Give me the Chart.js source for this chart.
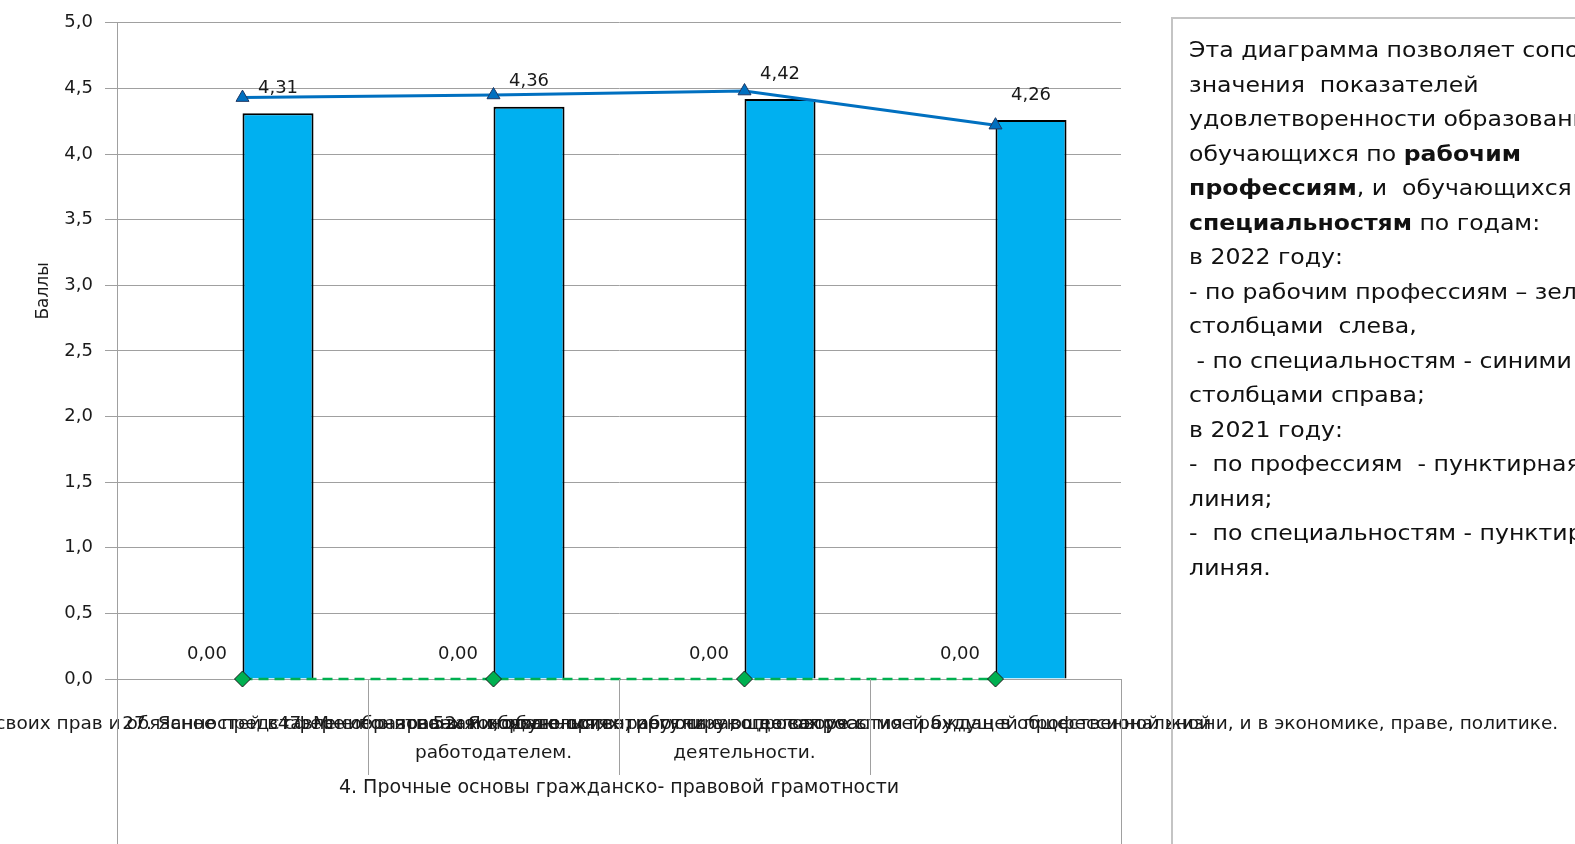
<!DOCTYPE html>
<html lang="ru">
<head>
<meta charset="utf-8">
<title>Удовлетворенность обучающихся</title>
<script src="https://cdn.jsdelivr.net/npm/chart.js@4.4.1/dist/chart.umd.min.js"></script>
<style>
  html, body { margin: 0; padding: 0; background: #fff; overflow: hidden; }
  #wrap { position: relative; width: 1575px; height: 844px; overflow: hidden; }
  #note {
    position: absolute; left: 1171px; top: 17px; width: 700px; height: 900px;
    border: 2px solid #c4c4c4; box-sizing: border-box;
    pointer-events: none;
  }
  #note .txt {
    padding: 14px 0 0 14px;
    font-family: "DejaVu Sans", sans-serif; font-size: 20.5px; line-height: 34.5px;
    color: #111; white-space: nowrap;
    transform: scaleX(1.15); transform-origin: 0 0;
  }
</style>
</head>
<body>
<div id="wrap">
  <canvas id="chart" width="1575" height="844"></canvas>
  <div id="note"><div class="txt">
    Эта диаграмма позволяет сопоставить<br>
    значения&nbsp; показателей<br>
    удовлетворенности образованием<br>
    обучающихся по <b>рабочим</b><br>
    <b>профессиям</b>, и&nbsp; обучающихся по<br>
    <b>специальностям</b> по годам:<br>
    в 2022 году:<br>
    - по рабочим профессиям – зелеными<br>
    столбцами&nbsp; слева,<br>
    &nbsp;- по специальностям - синими<br>
    столбцами справа;<br>
    в 2021 году:<br>
    -&nbsp; по профессиям&nbsp; - пунктирная<br>
    линия;<br>
    -&nbsp; по специальностям - пунктирная<br>
    линяя.
  </div></div>
</div>
<script>
// категории (вопросы анкеты), подписи частично перекрываются, как в оригинале
const categories = [
  ['16. Знание своих прав и обязанностей в сфере образования и, обучения,'],
  ['27. Ясное представление о правах и обязанностях работника, о договоре с', 'работодателем.'],
  ['47. Мне понятно законодательство, регулирующее вопросы моей будущей профессиональной', 'деятельности.'],
  ['52. Я хорошо ориентируюсь в вопросах участия граждан в общественной жизни, и в экономике, праве, политике.']
];
const groupLabel = '4. Прочные основы гражданско- правовой грамотности';

// 2022: столбцы
const prof2022 = [0, 0, 0, 0];
const spec2022 = [4.31, 4.36, 4.42, 4.26];
// 2021: линии
const prof2021 = [0, 0, 0, 0];
const spec2021 = [4.43, 4.45, 4.48, 4.22];

const yMin = 0, yMax = 5, yStep = 0.5;

const txtColor = '#1a1a1a';
const fontFamily = '"DejaVu Sans", sans-serif';
const fmt = (v, d) => v.toFixed(d).replace('.', ',');

Chart.defaults.font.family = fontFamily;
Chart.defaults.color = txtColor;

// подписи значений, разделители подписей оси X и заголовок оси Y
const extras = {
  id: 'extras',
  afterDatasetsDraw(chart) {
    const ctx = chart.ctx;
    ctx.save();
    ctx.font = '18px ' + fontFamily;
    ctx.fillStyle = txtColor;
    ctx.textAlign = 'center';
    ctx.textBaseline = 'middle';
    [0, 1].forEach(di => {
      const meta = chart.getDatasetMeta(di);
      meta.data.forEach((bar, i) => {
        const v = chart.data.datasets[di].data[i];
        ctx.fillText(fmt(v, 2), bar.x, bar.y - 25);
      });
    });
    ctx.restore();
  },
  afterDraw(chart) {
    const ctx = chart.ctx;
    const xs = chart.scales.x;
    const area = chart.chartArea;
    const step = xs.getPixelForValue(1) - xs.getPixelForValue(0);
    ctx.save();
    ctx.strokeStyle = '#a0a0a0';
    ctx.lineWidth = 1;
    for (let i = 0; i <= categories.length; i++) {
      const x = Math.round(xs.getPixelForValue(0) - step / 2 + i * step) + 0.5;
      const outer = i === 0 || i === categories.length;
      ctx.beginPath();
      ctx.moveTo(x, area.bottom);
      ctx.lineTo(x, outer ? chart.height : area.bottom + 96);
      ctx.stroke();
    }
    ctx.fillStyle = txtColor;
    ctx.font = '19px ' + fontFamily;
    ctx.textAlign = 'center';
    ctx.textBaseline = 'middle';
    ctx.fillText(groupLabel, (area.left + area.right) / 2, 788);

    ctx.translate(44, 291);
    ctx.rotate(-Math.PI / 2);
    ctx.font = '17px ' + fontFamily;
    ctx.fillText('Баллы', 0, 0);
    ctx.restore();
  }
};

new Chart(document.getElementById('chart'), {
  type: 'bar',
  data: {
    labels: categories,
    datasets: [
      {
        label: 'По рабочим профессиям, 2022',
        data: prof2022,
        backgroundColor: '#00B050',
        borderWidth: 0,
        order: 2
      },
      {
        label: 'По специальностям, 2022',
        data: spec2022,
        backgroundColor: '#00B0F0',
        borderColor: '#000',
        borderWidth: 2,
        order: 2
      },
      {
        type: 'line',
        label: 'По профессиям, 2021',
        data: prof2021,
        clip: false,
        borderColor: '#00B050',
        borderWidth: 2.5,
        borderDash: [10, 6],
        pointStyle: 'rectRot',
        pointRadius: 8,
        pointBackgroundColor: '#00B050',
        pointBorderColor: '#1a1a1a',
        pointBorderWidth: 1,
        order: 0
      },
      {
        type: 'line',
        label: 'По специальностям, 2021',
        data: spec2021,
        clip: false,
        borderColor: '#0070C0',
        borderWidth: 3,
        pointStyle: 'triangle',
        pointRadius: 7.5,
        pointBackgroundColor: '#0070C0',
        pointBorderColor: '#1f3864',
        pointBorderWidth: 1,
        order: 1
      }
    ]
  },
  options: {
    responsive: false,
    animation: false,
    devicePixelRatio: 1,
    categoryPercentage: 0.566,
    barPercentage: 1,
    layout: { padding: { left: 0, top: 21, right: 454, bottom: 0 } },
    plugins: {
      legend: { display: false },
      tooltip: { enabled: false }
    },
    scales: {
      x: {
        grid: { display: false, drawTicks: false },
        border: { display: true, color: '#a0a0a0' },
        ticks: {
          autoSkip: false,
          maxRotation: 0,
          minRotation: 0,
          padding: 30,
          font: { size: 18.5, lineHeight: 1.6 },
          color: txtColor
        },
        afterFit(scale) {
          scale.height = 165;
          scale.paddingLeft = 0;
          scale.paddingRight = 0;
        }
      },
      y: {
        min: yMin,
        max: yMax,
        grid: { color: '#a0a0a0', tickLength: 12 },
        border: { display: true, color: '#a0a0a0' },
        ticks: {
          stepSize: yStep,
          padding: 12,
          font: { size: 18 },
          color: txtColor,
          callback: v => fmt(v, 1)
        },
        afterFit(scale) { scale.width = 117; }
      }
    }
  },
  plugins: [extras]
});
</script>
</body>
</html>
